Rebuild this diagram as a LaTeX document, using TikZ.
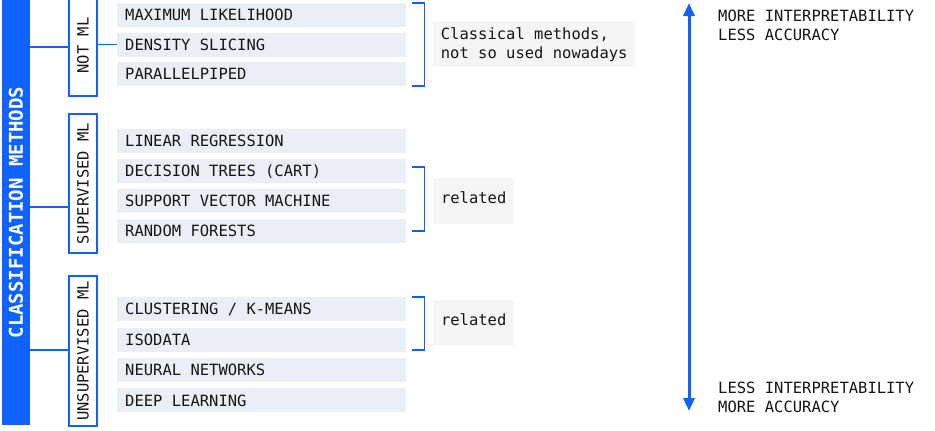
\documentclass[tikz,border=0pt]{standalone}
\usepackage{fontspec}
\setmonofont{DejaVu Sans Mono}
\usetikzlibrary{arrows.meta, positioning, calc}
\definecolor{myblue}{RGB}{15,98,254}
\definecolor{myitem}{RGB}{234,238,245}
\definecolor{mynote}{RGB}{244,245,247}
\definecolor{myink}{RGB}{22,22,22}

\begin{document}
\begin{tikzpicture}[x=1pt, y=-1pt,
    every node/.style={font=\fontsize{15.5}{19}\selectfont\ttfamily, text=myink},
    method/.style={fill=myitem, anchor=north west, minimum width=289pt, minimum height=24pt,
                   inner xsep=8pt, inner ysep=0pt, text height=11.3pt, text depth=0pt,
                   execute at begin node={\hbox to 273pt\bgroup},
                   execute at end node={\hfil\egroup}},
    group/.style={draw=myblue, line width=1.5pt, rotate=90, minimum height=28pt, inner sep=0pt,
                  text height=11.3pt, text depth=0pt},
    link/.style={draw=myblue, line width=1.5pt},
    note/.style={fill=mynote, anchor=north west, minimum height=46pt, inner sep=0pt},
    node distance=5.5pt]
    \useasboundingbox (0,0) rectangle (935,431);

    % Title bar
    \node[fill=myblue, rotate=90, minimum width=425pt, minimum height=28pt, inner sep=0pt,
          text=white, font=\fontsize{19}{19}\selectfont\ttfamily\bfseries,
          text height=13.9pt, text depth=0pt] (cls) at (16,212.5) {CLASSIFICATION METHODS};

    % Groups
    \node[group, minimum width=101pt] (notml) at (83,45.5) {NOT ML};
    \node[group, minimum width=139pt] (supml) at (83,183.5) {SUPERVISED ML};
    \node[group, minimum width=150pt] (unsml) at (83,351) {UNSUPERVISED ML};

    % Methods, not ML
    \node[method] (maxlik) at (117,3) {MAXIMUM LIKELIHOOD};
    \node[method, below=5pt of maxlik] (denslice) {DENSITY SLICING};
    \node[method, below=5pt of denslice] (parallel) {PARALLELPIPED};

    % Methods, supervised
    \node[method] (linreg) at (117,129) {LINEAR REGRESSION};
    \node[method, below=of linreg] (dectree) {DECISION TREES (CART)};
    \node[method, below=of dectree] (svm) {SUPPORT VECTOR MACHINE};
    \node[method, below=of svm] (forest) {RANDOM FORESTS};

    % Methods, unsupervised
    \node[method] (cluster) at (117,297) {CLUSTERING / K-MEANS};
    \node[method, below=6pt of cluster] (isodata) {ISODATA};
    \node[method, below=6pt of isodata] (neural) {NEURAL NETWORKS};
    \node[method, below=6pt of neural] (deep) {DEEP LEARNING};

    % Links from bar to groups
    \draw[link] (cls.south |- 0,47) -- (notml.north |- 0,47);
    \draw[link] (cls.south |- 0,207) -- (supml.north |- 0,207);
    \draw[link] (cls.south |- 0,350) -- (unsml.north |- 0,350);
    \draw[link] (notml.south |- denslice.west) -- (denslice.west);

    % Brackets
    \draw[link] ($(maxlik.north east)+(6,0)$) -- ++(12,0) |- ($(parallel.south east)+(6,0)$);
    \draw[link] ($(dectree.east)+(6,-4)$) -- ++(12,0) |- ($(forest.east)+(6,0)$);
    \draw[link] ($(cluster.north east)+(6,0)$) -- ++(12,0) |- ($(isodata.south east)+(6,-2)$);

    % Notes
    \node[note, minimum width=202pt, align=left] (classic) at (433,21) {Classical methods,\\not so used nowadays};
    \node[note, minimum width=81pt, text height=5pt, text depth=0pt] (rel1) at (433,178) {related};
    \node[note, minimum width=81pt, text height=5pt, text depth=0pt] (rel2) at (433,300) {related};

    % Interpretability axis
    \coordinate (axtop) at (689,3);
    \coordinate (axbot) at (689,411);
    \draw[myblue, line width=3pt, {Triangle[length=13pt,width=11pt]}-{Triangle[length=13pt,width=11pt]}] (axtop) -- (axbot);
    \node[anchor=north west, inner sep=0pt, align=left] (moreint) at (718,10) {MORE INTERPRETABILITY\\LESS ACCURACY};
    \node[anchor=north west, inner sep=0pt, align=left] (lessint) at (718,382) {LESS INTERPRETABILITY\\MORE ACCURACY};
\end{tikzpicture}
\end{document}
